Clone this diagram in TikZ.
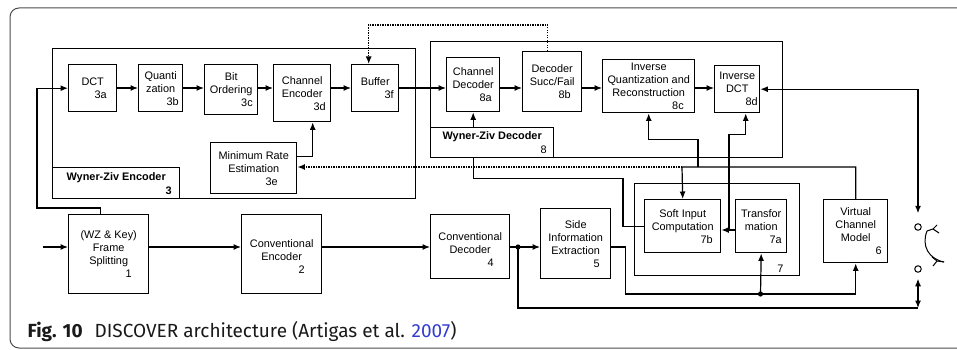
\documentclass[tikz,border=0pt]{standalone}
\usepackage{fontspec}
\setmainfont{Liberation Sans}
\newfontfamily\capfont{Fira Sans}
\usepackage{tikz}
\usetikzlibrary{positioning,arrows.meta}
\definecolor{capblue}{RGB}{50,60,205}
\newcommand{\blkno}[2]{\\\makebox[#1][r]{#2}}

\begin{document}
\begin{tikzpicture}[x=1pt, y=-1pt, line width=1.2pt, >={Latex[length=7.5pt,width=6pt]},
		blk/.style={draw, line width=1.4pt, anchor=north west, align=center, inner sep=1pt, font=\fontsize{10.9}{13}\selectfont},
		sz/.style 2 args={minimum width=#1, minimum height=#2},
		tag/.style={blk, fill=white, font=\bfseries\fontsize{10.9}{14}\selectfont},
		fb/.style={line width=1.3pt, dash pattern=on 1.3pt off 1.2pt},
		sw/.style={circle, draw, line width=1pt, inner sep=0pt, minimum size=6.5pt}]
	\useasboundingbox (0,0) rectangle (957,350);
	\clip (0,0) rectangle (957,350);
	\draw[line width=1pt, black!70, rounded corners=9pt] (10,8) rectangle (990,348);

	\node[blk, sz={363pt}{150pt}] (wze) at (52,48) {};
	\node[blk, sz={352pt}{116pt}] (wzd) at (430,41) {};
	\node[blk, sz={165pt}{92pt}] (grp) at (634,183) {};
	\node[anchor=base east, font=\fontsize{10.9}{13}\selectfont] at ([xshift=-13pt,yshift=4pt]grp.south east) {7};

	\node[blk, sz={48pt}{47pt}] (dct) at (68,64) {DCT\blkno{28pt}{3a}};
	\node[blk, sz={44pt}{47pt}] (qnt) at (138,64) {Quanti\\zation\blkno{36pt}{3b}};
	\node[blk, sz={53pt}{50pt}] (bo) at (204,64) {Bit\\Ordering\blkno{43pt}{3c}};
	\node[blk, sz={57pt}{57pt}] (cenc) at (273,64) {Channel\\Encoder\blkno{47pt}{3d}};
	\node[blk, sz={47pt}{47pt}] (buf) at (351,64) {Buffer\blkno{37pt}{3f}};
	\node[blk, sz={86pt}{51pt}] (mre) at (210,142) {Minimum Rate\\Estimation\blkno{48pt}{3e}};

	\node[blk, sz={53pt}{54pt}] (cdec) at (446,57) {Channel\\Decoder\blkno{37pt}{8a}};
	\node[blk, sz={59pt}{60pt}] (dsf) at (522,51) {Decoder\\Succ/Fail\blkno{37pt}{8b}};
	\node[blk, sz={92pt}{53pt}] (iqr) at (602,59) {Inverse\\Quantization and\\Reconstruction\blkno{70pt}{8c}};
	\node[blk, sz={45pt}{47pt}] (idct) at (714,65) {Inverse\\DCT\blkno{41pt}{8d}};

	\node[blk, sz={80pt}{79pt}] (fs) at (68,214) {(WZ \& Key)\\Frame\\Splitting\blkno{46pt}{1}};
	\node[blk, sz={80pt}{79pt}] (ce) at (241,214) {\mbox{}\\Conventional\\Encoder\blkno{46pt}{2}};
	\node[blk, sz={79pt}{64pt}] (cd) at (430,214) {\mbox{}\\Conventional\\Decoder\blkno{47pt}{4}};
	\node[blk, sz={70pt}{70pt}] (si) at (540,208) {Side\\Information\\Extraction\blkno{48pt}{5}};
	\node[blk, sz={76pt}{53pt}] (sic) at (644,199) {Soft Input\\Computation\blkno{60pt}{7b}};
	\node[blk, sz={51pt}{53pt}] (ta) at (735,199) {Transfor\\mation\blkno{41pt}{7a}};
	\node[blk, sz={64pt}{63pt}] (vcm) at (823,199) {Virtual\\Channel\\Model\blkno{52pt}{6}};

	\node[sw] (sw1) at (918,227) {};
	\node[sw] (sw2) at (918,269) {};

	\coordinate (r1) at (0,88);
	\draw[->] (r1 -| dct.east) -- (r1 -| qnt.west);
	\draw[->] (r1 -| qnt.east) -- (r1 -| bo.west);
	\draw[->] (r1 -| bo.east) -- (r1 -| cenc.west);
	\draw[->] (r1 -| cenc.east) -- (r1 -| buf.west);
	\draw[->] (r1 -| buf.east) -- (r1 -| cdec.west);
	\draw[->] (r1 -| cdec.east) -- (r1 -| dsf.west);
	\draw[->] (r1 -| dsf.east) -- (r1 -| iqr.west);
	\draw[->] (r1 -| iqr.east) -- (r1 -| idct.west);
	\draw[->] ([yshift=11.5pt]mre.east) -| ([xshift=10.5pt]cenc.south);
	\draw[fb, ->] ([xshift=-4.5pt]dsf.north) -- ++(0,-26) -| ([xshift=-6.5pt]buf.north);

	\coordinate (r2) at (0,247);
	\coordinate (in) at (43,247);
	\draw[->] (in) -- (r2 -| fs.west);
	\draw[->] (r2 -| fs.east) -- (r2 -| ce.west);
	\draw[->] (r2 -| ce.east) -- (r2 -| cd.west);
	\draw[->] (r2 -| cd.east) -- (r2 -| si.west);
	\draw[->] ([xshift=-8pt]fs.north) -- ++(0,-6) -| ([xshift=-31pt]dct.west) -- (dct.west);

	\coordinate (jn) at (518,247);
	\coordinate (sj) at (760.5,294);
	\coordinate (bot) at (918,308);
	\fill (jn) circle (2.6);
	\fill (sj) circle (2.6);
	\draw[->] (r2 -| si.east) -| ++(14,47) -| (vcm.south);
	\draw[->] (sj) -- (ta.south);
	\draw (jn) |- (bot);
	\draw[<->, shorten >=6pt] (bot) -- (sw2.south);
	\draw[<->, shorten >=10pt] (idct.east) -| (sw1.north);

	\coordinate (vj) at (682,167);
	\coordinate (qj) at (698,167);
	\coordinate (tj) at (729,230);
	\draw[->] (vcm.north) |- (vj) -- (sic.north);
	\draw[fb, ->] (vj) -- (vj -| mre.east);
	\draw[->] (qj) |- ([yshift=-26pt]iqr.south) -- (iqr.south);
	\draw[->] (tj -| ta.west) -- (tj -| sic.east);
	\draw[->] (tj) |- ([xshift=8.5pt,yshift=-21pt]idct.south) -- ([xshift=8.5pt]idct.south);
	\draw[->] (sic.west) -| ++(-21,-48) -| (cdec.south);

	\node[tag, sz={127pt}{31pt}] (wzel) at (52,167) {Wyner-Ziv Encoder\blkno{111pt}{3}};
	\node[tag, sz={123pt}{30pt}] (wzdl) at (430,127) {Wyner-Ziv Decoder\blkno{109pt}{\mdseries 8}};

	\draw[line width=1pt] (927,231) .. controls (921,246) and (929,259) .. (944,262);
	\draw[line width=1pt] (927,231) -- (933,229) -- (937,225) (933,229) -- (939,233);
	\draw[line width=1pt] (944,262) -- (937,261) -- (932,257) (937,261) -- (933,266);

	\node[anchor=base west, inner sep=0pt, text=black!90, font=\capfont\fontsize{19}{23}\selectfont] (cap) at (27,337)
		{\textbf{Fig. 10}\hspace{12pt}DISCOVER architecture (Artigas et al. \textcolor{capblue}{2007})};
\end{tikzpicture}
\end{document}
